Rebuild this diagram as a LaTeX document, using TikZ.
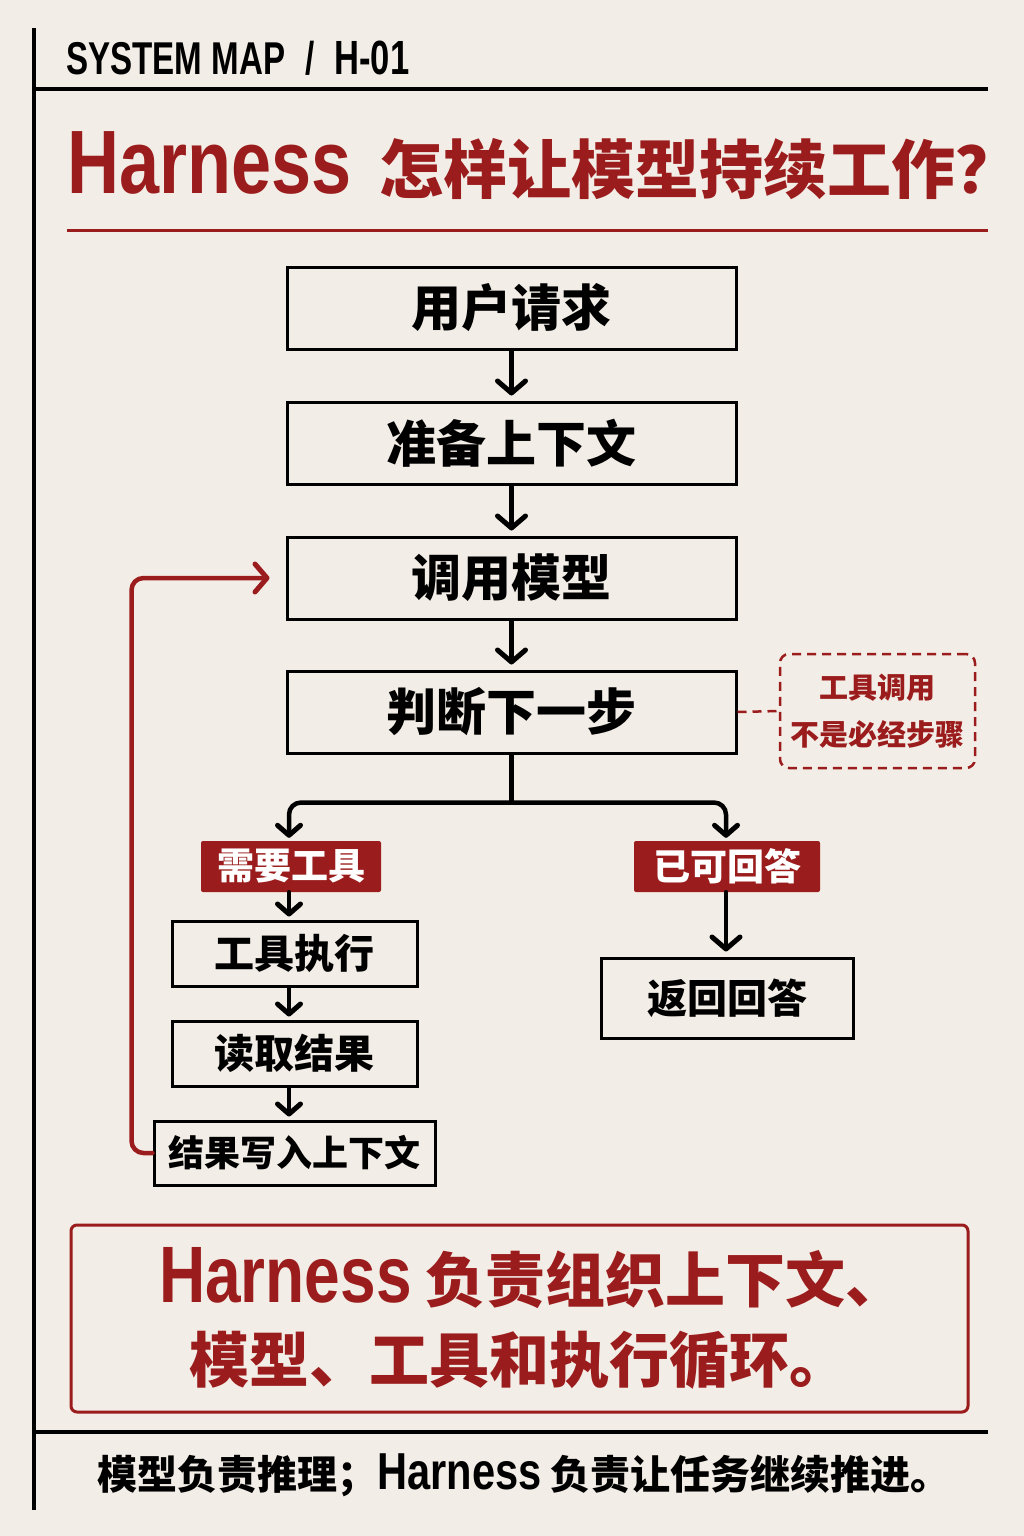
\documentclass[tikz,border=0pt]{standalone}
\usepackage{fontspec}
\setmainfont{Noto Sans CJK SC}
\newfontfamily\latfont{Liberation Sans}[FakeStretch=0.8]
\newfontfamily\headfont{Liberation Sans}[FakeStretch=0.72]
\usetikzlibrary{arrows.meta,calc}
\definecolor{paper}{HTML}{F2EDE6}
\definecolor{hred}{HTML}{9B1C1C}
\newcommand{\sizept}[1]{\fontsize{#1}{#1}\selectfont}

\begin{document}
\begin{tikzpicture}[x=1pt,y=-1pt]
		\tikzstyle{stepbox}=[draw,line width=3pt,minimum height=82pt,
							inner sep=0pt,font=\bfseries\sizept{50}]
		\tikzstyle{smallbox}=[draw,line width=3pt,minimum height=65pt,
							inner sep=0pt,font=\bfseries\sizept{40}]
		\tikzstyle{tag}=[fill=hred,rounded corners=2pt,minimum width=180pt,
							minimum height=51pt,inner sep=0pt,text=white,
							font=\bfseries\sizept{37}]
		\tikzstyle{flow}=[line width=4.5pt,line cap=round,line join=round,shorten >=5pt,
							-{Straight Barb[round,length=12pt,width=28pt,line width=5pt]}]
		\tikzstyle{shortflow}=[flow,shorten >=3pt,
							-{Straight Barb[round,length=10pt,width=23pt,line width=5pt]}]
		\tikzstyle{rule}=[line width=3.5pt]

		\fill[paper] (0,0) rectangle (1024,1536);

		% frame
		\draw[rule] (34,28) -- (34,1510);
		\draw[rule] (34,89) -- (988,89);
		\draw[rule,hred,line width=3pt] (67,230) -- (988,230);
		\draw[rule] (34,1432) -- (988,1432);

		% heading
		\node[anchor=west,inner sep=0pt] (head) at (66,58)
			{\headfont\bfseries\sizept{46}SYSTEM MAP\hspace{20pt}/\hspace{20pt}{\sizept{48}H-01}};
		\node[anchor=west,inner sep=0pt,text=hred] (title) at (67,166)
			{{\latfont\bfseries\sizept{90}Harness}\hspace{28pt}{\bfseries\sizept{64}怎样让模型持续工作？}};

		% main steps
		\foreach \name/\y/\txt in {req/308/用户请求, ctx/443/准备上下文,
								   call/578/调用模型, judge/712/判断下一步}
			\node[stepbox,minimum width=449pt] (\name) at (511.5,\y) {\txt};

		\foreach \a/\b in {req/ctx, ctx/call, call/judge}
			\draw[flow] (\a) -- (\b);

		% note
		\node[draw=hred,dashed,dash pattern=on 9pt off 6pt,line width=2.5pt,
			  rounded corners=9pt,minimum width=195pt,minimum height=114pt,
			  align=center,text=hred,font=\bfseries\sizept{29}]
			(note) at (877.5,711) {工具调用\\[18pt]不是必经步骤};
		\draw[hred,line width=2.5pt,dash pattern=on 9pt off 6pt] (judge.east) -- (note.west);

		% branches
		\node[tag] (needtool) at (291,866.5) {需要工具};
		\node[tag,minimum width=186pt] (canans) at (727,866.5) {已可回答};
		\draw[line width=4.5pt] (judge.south) -- ++(0,48) coordinate (fork);
		\draw[shortflow,rounded corners=12pt] (fork) -| ([xshift=-2pt]needtool.north);
		\draw[shortflow,rounded corners=12pt] (fork) -| ([xshift=-1pt]canans.north);

		% tool path
		\node[smallbox,minimum width=245pt] (exec) at (294.5,953.5) {工具执行};
		\node[smallbox,minimum width=245pt] (readres) at (294.5,1053.5) {读取结果};
		\node[smallbox,minimum width=281pt,minimum height=64pt,font=\bfseries\sizept{36}]
			(write) at (294.5,1153) {结果写入上下文};
		\draw[shortflow] ([xshift=-2pt]needtool.south) -- ([xshift=-5.5pt]exec.north);
		\draw[shortflow] ([xshift=-5.5pt]exec.south) -- ([xshift=-5.5pt]readres.north);
		\draw[shortflow] ([xshift=-5.5pt]readres.south) -- ([xshift=-5.5pt]write.north);

		% answer path
		\node[smallbox,minimum width=252pt,minimum height=80pt] (ret) at (727,998) {返回回答};
		\draw[flow] ([xshift=-1pt]canans.south) -- ([xshift=-1pt]ret.north);

		% loop back
		\draw[flow,hred,rounded corners=12pt,shorten >=16pt]
			(write.west) -- ++(-21,0) |- (call.west);

		% summary
		\node[draw=hred,line width=3pt,rounded corners=6pt,minimum width=897pt,
			  minimum height=187pt,text=hred,align=center,
			  font=\bfseries\sizept{60}] (summary) at (519.5,1318.5)
			{\hspace*{26pt}{\latfont\sizept{80}Harness}\hspace{14pt}负责组织上下文、\\[20pt]模型、工具和执行循环。};

		% footer
		\node[inner sep=0pt,font=\bfseries\sizept{40}] (foot) at (524,1475)
			{模型负责推理；{\latfont\sizept{52}Harness} 负责让任务继续推进。};
\end{tikzpicture}
\end{document}
